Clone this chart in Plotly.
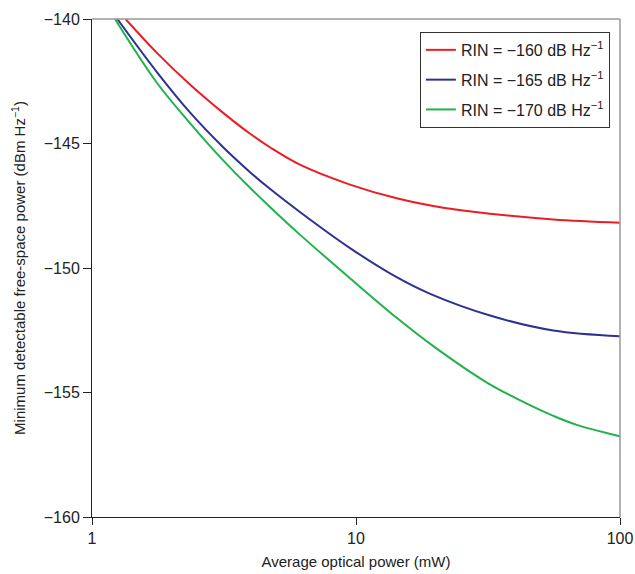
import plotly.graph_objects as go

# Average optical power (mW) and minimum detectable power (dBm Hz^-1)
p_red = [1.34, 1.758, 2.35, 3.14, 3.96, 4.72, 6.13, 9.49, 14.26, 21.41, 32.18, 55.9, 100]
v_red = [-140.0, -141.35, -142.63, -143.77, -144.6, -145.15, -145.85, -146.65, -147.2, -147.58, -147.82, -148.05, -148.18]

p_blue = [1.247, 1.758, 2.35, 3.14, 3.96, 4.72, 6.13, 9.49, 14.26, 19.1, 32.18, 55.9, 100]
v_blue = [-140.0, -142.12, -143.75, -145.15, -146.14, -146.82, -147.75, -149.2, -150.37, -151.04, -151.91, -152.51, -152.74]

p_green = [1.222, 1.758, 2.35, 3.14, 3.96, 4.72, 6.13, 9.49, 14.26, 19.92, 31.2, 44.95, 55.9, 68.55, 100]
v_green = [-140.0, -142.55, -144.18, -145.68, -146.77, -147.55, -148.66, -150.41, -152.0, -153.19, -154.59, -155.48, -155.94, -156.3, -156.76]

names = ["RIN = \u2212160 dB Hz<sup>\u22121</sup>",
         "RIN = \u2212165 dB Hz<sup>\u22121</sup>",
         "RIN = \u2212170 dB Hz<sup>\u22121</sup>"]
colors = ["#ED1C24", "#2E3192", "#22B24C"]

x_ticks = [1, 10, 100]
x_ticktext = ["1", "10", "100"]
y_ticks = [-160, -155, -150, -145, -140]
y_ticktext = ["\u2212160", "\u2212155", "\u2212150", "\u2212145", "\u2212140"]

font_family = "Liberation Sans, Arial, sans-serif"

fig = go.Figure()
for i, (p, v, n, c) in enumerate(zip([p_red, p_blue, p_green], [v_red, v_blue, v_green], names, colors)):
    fig.add_trace(go.Scatter(x=p, y=v, mode="lines", name=n, legendgroup=f"g{i}",
                             line=dict(color=c, width=2, shape="spline", smoothing=1.0)))

fig.update_layout(
    width=635, height=574,
    margin=dict(l=92, r=15, t=19, b=57),
    paper_bgcolor="white", plot_bgcolor="white",
    font=dict(family=font_family, size=16, color="#222"),
    showlegend=True,
    legend=dict(x=0.621, y=0.974, xanchor="left", yanchor="top",
                bordercolor="#333", borderwidth=1, bgcolor="white",
                font=dict(size=16), tracegroupgap=6, itemwidth=30),
    xaxis=dict(type="log", range=[0, 2], tickvals=x_ticks, ticktext=x_ticktext,
               showgrid=False, zeroline=False, showline=True, linecolor="#222", linewidth=1,
               ticks="outside", ticklen=7, tickcolor="#222", automargin=False,
               tickfont=dict(size=16),
               title=dict(text="Average optical power (mW)", standoff=10, font=dict(size=15))),
    yaxis=dict(range=[-160, -140], tickvals=y_ticks, ticktext=y_ticktext,
               showgrid=False, zeroline=False, showline=True, linecolor="#222", linewidth=1,
               ticks="outside", ticklen=8, tickcolor="#222", automargin=False,
               tickfont=dict(size=16),
               title=dict(text="Minimum detectable free-space power (dBm Hz<sup>\u22121</sup>)",
                          standoff=14, font=dict(size=15))),
    shapes=[
        dict(type="line", xref="paper", yref="paper", x0=0, x1=1, y0=1, y1=1,
             line=dict(color="#999", width=1.5)),
        dict(type="line", xref="paper", yref="paper", x0=1, x1=1, y0=0, y1=1,
             line=dict(color="#999", width=1.5)),
    ],
)

fig.write_html("out.html")
